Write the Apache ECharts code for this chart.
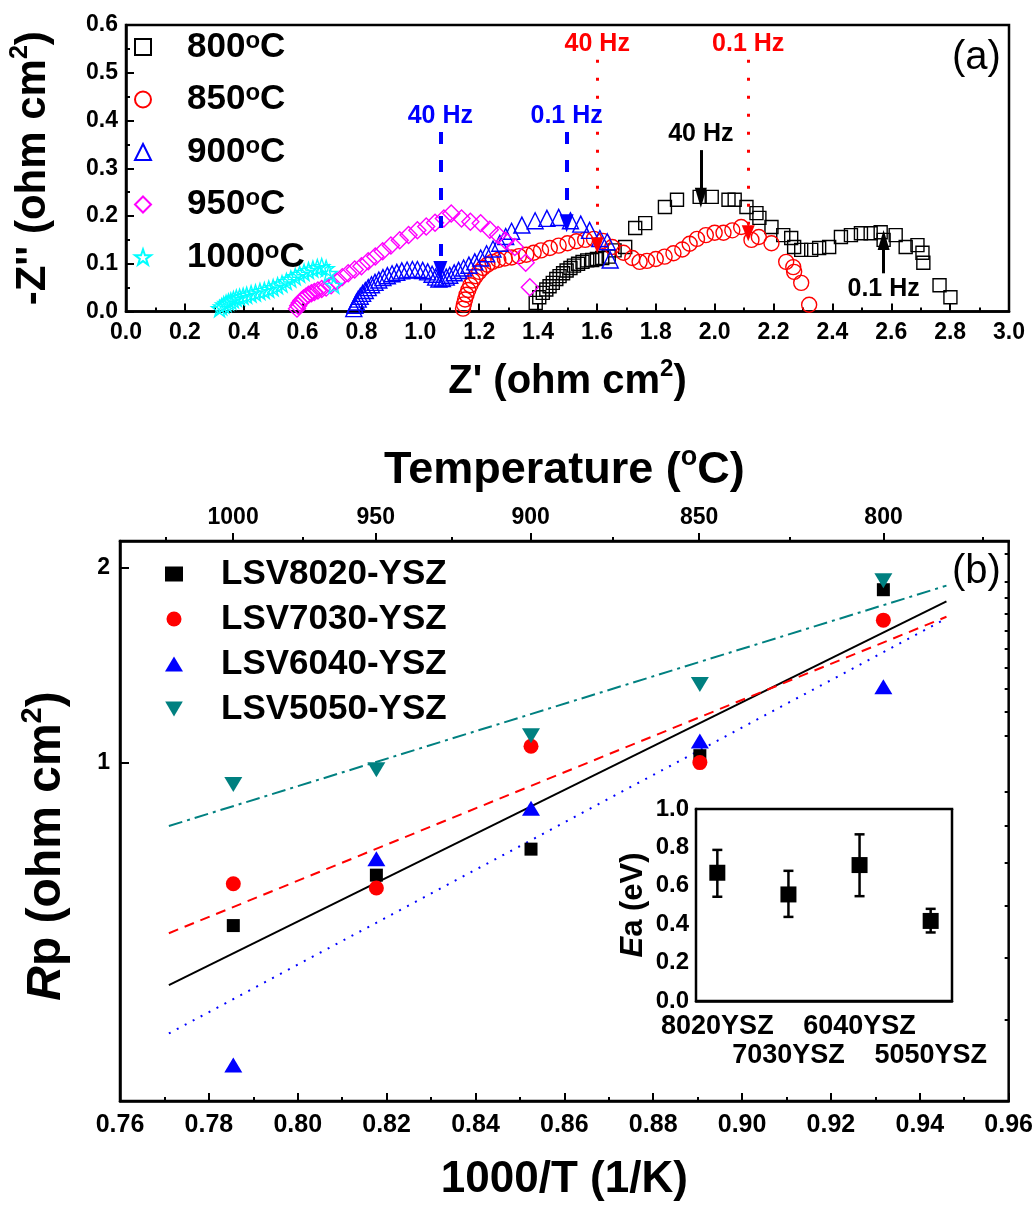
<!DOCTYPE html>
<html lang="en">
<head>
<meta charset="UTF-8">
<title>Impedance spectra and Arrhenius plot</title>
<script src="https://cdn.jsdelivr.net/npm/echarts@6/dist/echarts.min.js"></script>
<style>html,body{margin:0;padding:0;background:#fff;}</style>
</head>
<body>
<div id="main" style="width:1036px;height:1207px;"></div>
<script type="text/javascript">
// ---- (a) Nyquist data: [Z', -Z''] in ohm cm2 ----
const nyq800 = [[1.392,0.018],[1.404,0.030],[1.416,0.039],[1.428,0.046],[1.439,0.053],[1.45,0.06],[1.462,0.068],[1.473,0.074],[1.485,0.080],[1.497,0.086],[1.51,0.091],[1.522,0.096],[1.536,0.100],[1.551,0.104],[1.567,0.107],[1.584,0.108],[1.60,0.110],[1.618,0.112],[1.64,0.115],[1.66,0.128],[1.696,0.135],[1.73,0.175],[1.764,0.185],[1.831,0.219],[1.872,0.234],[1.949,0.240],[1.99,0.240],[2.047,0.234],[2.068,0.234],[2.108,0.219],[2.142,0.206],[2.152,0.196],[2.193,0.177],[2.233,0.160],[2.26,0.154],[2.27,0.135],[2.294,0.129],[2.328,0.129],[2.355,0.133],[2.389,0.135],[2.429,0.156],[2.463,0.160],[2.497,0.164],[2.53,0.164],[2.564,0.166],[2.574,0.150],[2.615,0.160],[2.649,0.135],[2.689,0.139],[2.706,0.123],[2.709,0.102],[2.764,0.055],[2.801,0.030]];
const nyq850 = [[1.145,0.006],[1.148,0.015],[1.152,0.025],[1.157,0.035],[1.163,0.045],[1.17,0.055],[1.178,0.065],[1.188,0.074],[1.2,0.083],[1.213,0.091],[1.228,0.098],[1.245,0.104],[1.265,0.108],[1.287,0.111],[1.31,0.113],[1.335,0.116],[1.36,0.119],[1.385,0.123],[1.41,0.128],[1.44,0.133],[1.47,0.138],[1.50,0.143],[1.53,0.147],[1.56,0.150],[1.59,0.152],[1.62,0.148],[1.652,0.135],[1.69,0.123],[1.72,0.112],[1.745,0.104],[1.77,0.106],[1.80,0.110],[1.83,0.115],[1.86,0.122],[1.89,0.130],[1.915,0.142],[1.94,0.152],[1.97,0.160],[2.0,0.165],[2.03,0.165],[2.06,0.170],[2.09,0.177],[2.125,0.150],[2.15,0.156],[2.193,0.143],[2.243,0.104],[2.267,0.093],[2.27,0.083],[2.294,0.060],[2.321,0.014]];
const nyq900 = [[0.774,0.006],[0.778,0.013],[0.783,0.020],[0.789,0.026],[0.796,0.032],[0.804,0.038],[0.813,0.044],[0.823,0.050],[0.834,0.056],[0.846,0.061],[0.859,0.066],[0.873,0.071],[0.888,0.075],[0.904,0.079],[0.92,0.082],[0.937,0.085],[0.955,0.087],[0.973,0.088],[0.99,0.088],[1.008,0.086],[1.025,0.083],[1.04,0.078],[1.052,0.072],[1.063,0.068],[1.075,0.069],[1.088,0.072],[1.10,0.076],[1.115,0.081],[1.13,0.086],[1.147,0.091],[1.165,0.097],[1.185,0.104],[1.205,0.112],[1.225,0.121],[1.247,0.131],[1.27,0.143],[1.29,0.157],[1.31,0.168],[1.345,0.181],[1.39,0.190],[1.43,0.195],[1.47,0.197],[1.51,0.190],[1.545,0.183],[1.575,0.170],[1.61,0.153],[1.635,0.146],[1.645,0.108]];
const nyq950 = [[0.581,0.006],[0.585,0.012],[0.59,0.018],[0.596,0.023],[0.603,0.027],[0.611,0.031],[0.62,0.035],[0.63,0.038],[0.64,0.041],[0.652,0.044],[0.665,0.047],[0.68,0.050],[0.697,0.055],[0.716,0.063],[0.735,0.072],[0.755,0.080],[0.777,0.088],[0.80,0.095],[0.823,0.105],[0.847,0.115],[0.872,0.126],[0.90,0.138],[0.93,0.149],[0.96,0.160],[0.99,0.170],[1.02,0.178],[1.05,0.186],[1.08,0.195],[1.105,0.205],[1.14,0.195],[1.17,0.188],[1.205,0.185],[1.236,0.171],[1.264,0.160],[1.29,0.148],[1.321,0.135],[1.358,0.102],[1.372,0.051]];
const nyq1000 = [[0.318,0.006],[0.325,0.010],[0.332,0.014],[0.340,0.017],[0.348,0.020],[0.356,0.022],[0.365,0.025],[0.375,0.028],[0.386,0.030],[0.398,0.032],[0.41,0.034],[0.425,0.037],[0.44,0.039],[0.455,0.042],[0.47,0.044],[0.485,0.047],[0.50,0.050],[0.515,0.054],[0.53,0.058],[0.545,0.063],[0.56,0.068],[0.575,0.073],[0.59,0.078],[0.605,0.082],[0.62,0.086],[0.635,0.089],[0.65,0.092],[0.665,0.094],[0.68,0.090],[0.69,0.080],[0.706,0.055]];
const nyqNames = ['800°C', '850°C', '900°C', '950°C', '1000°C'];

// frequency markers: x, start, arrow tip
const hzText = ['40 Hz', '0.1 Hz', '40 Hz', '0.1 Hz', '40 Hz', '0.1 Hz'];
const hzX = [1.068, 1.497, 1.601, 2.114, 1.953, 2.574];
const hzFrom = [0.376, 0.376, 0.527, 0.527, 0.338, 0.080];
const hzTo = [0.087, 0.185, 0.139, 0.164, 0.238, 0.150];

// ---- (b) Arrhenius data ----
const tempTicks = [1000, 950, 900, 850, 800];
const tempMinor = [1025, 975, 925, 875, 825, 775];
const invT = [0.7855, 0.8177, 0.8525, 0.8905, 0.9318];
const rp8020 = [0.56, 0.67, 0.735, 1.025, 1.85];
const rp7030 = [0.65, 0.64, 1.06, 1.0, 1.66];
const rp6040 = [0.341, 0.71, 0.85, 1.08, 1.31];
const rp5050 = [0.925, 0.975, 1.10, 1.32, 1.91];
const rpNames = ['LSV8020-YSZ', 'LSV7030-YSZ', 'LSV6040-YSZ', 'LSV5050-YSZ'];
// linear fits (end points)
const fitX = [0.771, 0.946];
const fit8020 = [0.453, 1.775];
const fit7030 = [0.545, 1.68];
const fit6040 = [0.3815, 1.67];
const fit5050 = [0.798, 1.877];
const rpMajor = [1, 2];
const rpMinor = [0.3, 0.4, 0.5, 0.6, 0.7, 0.8, 0.9, 1.1, 1.2, 1.3, 1.4, 1.5, 1.6, 1.7, 1.8, 1.9, 2.1, 2.2];

// ---- inset: activation energy ----
const insetCats = ['8020YSZ', '7030YSZ', '6040YSZ', '5050YSZ'];
const insetPos = [1, 2, 3, 4];
const eaVal = [0.668, 0.555, 0.708, 0.417];
const eaLow = [0.543, 0.438, 0.546, 0.357];
const eaHigh = [0.787, 0.678, 0.868, 0.48];

const FONT = "'Liberation Sans', Arial, sans-serif";
const STAR = 'path://M50,0L61.8,35.1L97.6,35.1L68.7,56.8L79.4,91.2L50,70L20.6,91.2L31.3,56.8L2.4,35.1L38.2,35.1Z';
const DOWN_TRI = 'path://M0,0L20,0L10,17Z';
const toInvT = t => 1000 / (t + 273.15);

function bold(size) {
    return {fontFamily: FONT, fontSize: size, fontWeight: 'bold', color: '#000'};
}
function richFor(size) {
    return {
        sup: {fontFamily: FONT, fontWeight: 'bold', color: '#000', fontSize: Math.round(size * 0.6), lineHeight: Math.round(size * 0.62), verticalAlign: 'top'},
        i: {fontFamily: FONT, fontWeight: 'bold', fontStyle: 'italic', color: '#000', fontSize: size, lineHeight: Math.round(size * 1.2)},
        n: {fontFamily: FONT, fontWeight: 'bold', color: '#000', fontSize: size, lineHeight: Math.round(size * 1.2)}
    };
}
function nameStyle(size) {
    return Object.assign(bold(size), {lineHeight: Math.round(size * 1.2), rich: richFor(size)});
}

const blackLine = {lineStyle: {color: '#000', width: 2.5}};
function ticks(len, inside) {
    return {show: true, inside: inside, length: len, lineStyle: {color: '#000', width: 2}};
}
function minor(len) {
    return {show: true, splitNumber: 2, length: len, lineStyle: {color: '#000', width: 2}};
}

const nyqData = [nyq800, nyq850, nyq900, nyq950, nyq1000];
const nyqColors = ['#000000', '#ff0000', '#0000ff', '#ff00ff', '#00ffff'];
const nyqSymbols = ['rect', 'circle', 'triangle', 'diamond', STAR];
const nyqSizes = [13, 15, 16, 17, 16];

const hzColor = ['#0000ff', '#0000ff', '#ff0000', '#ff0000', '#000000', '#000000'];
const hzDash = [[12, 16], [12, 16], [3, 15], [3, 15], 'solid', 'solid'];
const hzWidth = [4, 4, 3, 3, 3, 3];
const hzHead = [[14, 18], [14, 18], [13, 16], [13, 16], [12, 20], [12, 20]];

const markData = hzX.map((x, i) => [
    {
        coord: [x, hzFrom[i]], symbol: 'none',
        lineStyle: {color: hzColor[i], width: hzWidth[i], type: hzDash[i]},
        label: {show: true, position: 'start', distance: 3, formatter: hzText[i],
            color: hzColor[i], fontFamily: FONT, fontSize: 25, fontWeight: 'bold'}
    },
    {coord: [x, hzTo[i]], symbol: 'triangle', symbolSize: hzHead[i]}
]);

const topSeries = nyqNames.map((name, i) => ({
    name: name, type: 'scatter', xAxisIndex: 0, yAxisIndex: 0,
    data: nyqData[i], symbol: nyqSymbols[i], symbolSize: nyqSizes[i],
    itemStyle: {color: 'rgba(255,255,255,0)', borderColor: nyqColors[i], borderWidth: 1.4, opacity: 1},
    emphasis: {disabled: true}, z: 3
}));
topSeries[0].markLine = {silent: true, animation: false, precision: 3, data: markData};

const rpVals = [rp8020, rp7030, rp6040, rp5050];
const rpFits = [fit8020, fit7030, fit6040, fit5050];
const rpColors = ['#000000', '#ff0000', '#0000ff', '#008080'];
const rpSymbols = ['rect', 'circle', 'triangle', 'triangle'];
const rpIcons = ['rect', 'circle', 'triangle', DOWN_TRI];
const rpSizes = [13, 15, [18, 15], [18, 15]];
const fitDash = ['solid', [10, 7], [2, 7], [14, 5, 3, 5]];

const fitSeries = rpFits.map((f, i) => ({
    name: 'fit ' + rpNames[i], type: 'line', xAxisIndex: 1, yAxisIndex: 1,
    data: fitX.map((x, j) => [x, f[j]]), symbol: 'none', silent: true,
    lineStyle: {color: rpColors[i], width: 2, type: fitDash[i]}, z: 2
}));
const rpSeries = rpNames.map((name, i) => ({
    name: name, type: 'scatter', xAxisIndex: 1, yAxisIndex: 1,
    data: invT.map((x, j) => [x, rpVals[i][j]]),
    symbol: rpSymbols[i], symbolSize: rpSizes[i], symbolRotate: i === 3 ? 180 : 0,
    itemStyle: {color: rpColors[i], opacity: 1}, emphasis: {disabled: true}, z: 3
}));

const insetSeries = [
    {
        type: 'custom', xAxisIndex: 4, yAxisIndex: 3, silent: true,
        data: insetPos.map((x, i) => [x, eaLow[i], eaHigh[i]]),
        encode: {x: 0, y: [1, 2]},
        renderItem: function (params, api) {
            const top = api.coord([api.value(0), api.value(2)]);
            const bot = api.coord([api.value(0), api.value(1)]);
            const st = {stroke: '#000', lineWidth: 2.5};
            const w = 5;
            return {type: 'group', children: [
                {type: 'line', shape: {x1: top[0], y1: top[1], x2: bot[0], y2: bot[1]}, style: st},
                {type: 'line', shape: {x1: top[0] - w, y1: top[1], x2: top[0] + w, y2: top[1]}, style: st},
                {type: 'line', shape: {x1: bot[0] - w, y1: bot[1], x2: bot[0] + w, y2: bot[1]}, style: st}
            ]};
        }
    },
    {
        type: 'scatter', xAxisIndex: 4, yAxisIndex: 3, symbol: 'rect', symbolSize: 16,
        data: insetPos.map((x, i) => [x, eaVal[i]]), itemStyle: {color: '#000', opacity: 1}, z: 4
    }
];

// inset category labels are staggered on two rows
const insetRow1 = [1, 3];
const insetRow2 = [2, 4];
function insetLabelAxis(pos, margin) {
    return {
        gridIndex: 2, type: 'value', min: 0.7, max: 4.3, position: 'bottom',
        axisLine: {show: false}, axisTick: {show: false}, splitLine: {show: false},
        axisLabel: Object.assign(bold(27), {margin: margin, customValues: pos, hideOverlap: false,
            showMinLabel: true, showMaxLabel: true,
            formatter: v => insetCats[Math.round(v) - 1]})
    };
}

const option = {
    animation: false,
    backgroundColor: '#fff',
    textStyle: {fontFamily: FONT},
    grid: [
        {left: 121, top: 25, width: 888, height: 286.5, show: true, borderColor: '#000', borderWidth: 2.5},
        {left: 120, top: 541, width: 890, height: 565, show: true, borderColor: '#000', borderWidth: 2.5},
        {left: 696, top: 809, width: 256, height: 192, show: true, borderColor: '#000', borderWidth: 2.5, backgroundColor: '#fff', z: 1}
    ],
    xAxis: [
        {
            gridIndex: 0, type: 'value', min: 0, max: 3, interval: 0.2, position: 'bottom',
            axisLine: blackLine, axisTick: ticks(8, true), minorTick: minor(4), splitLine: {show: false},
            axisLabel: Object.assign(bold(23), {margin: 10, formatter: v => v.toFixed(1)}),
            name: "Z' (ohm cm{sup|2})", nameLocation: 'middle', nameGap: 46, nameTextStyle: nameStyle(40)
        },
        {
            gridIndex: 1, type: 'value', min: 0.76, max: 0.96, interval: 0.02, position: 'bottom',
            axisLine: blackLine, axisTick: ticks(8, true), minorTick: minor(4), splitLine: {show: false},
            axisLabel: Object.assign(bold(25), {margin: 12, formatter: v => v.toFixed(2)}),
            name: '1000/T (1/K)', nameLocation: 'middle', nameGap: 52, nameTextStyle: nameStyle(44)
        },
        {
            gridIndex: 1, type: 'value', min: 0.76, max: 0.96, position: 'top',
            axisLine: blackLine, splitLine: {show: false},
            axisTick: Object.assign(ticks(8, false), {customValues: tempTicks.map(toInvT)}),
            axisLabel: Object.assign(bold(23), {margin: 12, customValues: tempTicks.map(toInvT),
                formatter: v => String(Math.round(1000 / v - 273.15))}),
            name: 'Temperature ({sup|o}C)', nameLocation: 'middle', nameGap: 43, nameTextStyle: nameStyle(45)
        },
        {
            gridIndex: 1, type: 'value', min: 0.76, max: 0.96, position: 'top',
            axisLine: {show: false}, splitLine: {show: false}, axisLabel: {show: false},
            axisTick: Object.assign(ticks(4, false), {customValues: tempMinor.map(toInvT)})
        },
        {
            gridIndex: 2, type: 'value', min: 0.7, max: 4.3, position: 'bottom',
            axisLine: blackLine, splitLine: {show: false}, axisLabel: {show: false},
            axisTick: Object.assign(ticks(7, true), {customValues: insetPos})
        },
        {
            gridIndex: 2, type: 'value', min: 0.7, max: 4.3, position: 'top',
            axisLine: blackLine, splitLine: {show: false}, axisLabel: {show: false},
            axisTick: Object.assign(ticks(6, true), {customValues: insetPos})
        },
        insetLabelAxis(insetRow1, 12),
        insetLabelAxis(insetRow2, 41)
    ],
    yAxis: [
        {
            gridIndex: 0, type: 'value', min: 0, max: 0.6, interval: 0.1,
            axisLine: blackLine, axisTick: ticks(8, true), minorTick: minor(4), splitLine: {show: false},
            axisLabel: Object.assign(bold(23), {margin: 8, formatter: v => v.toFixed(1)}),
            name: "-Z'' (ohm cm{sup|2})", nameLocation: 'middle', nameGap: 68, nameTextStyle: nameStyle(42)
        },
        {
            gridIndex: 1, type: 'log', logBase: 10, min: 0.3, max: 2.2,
            axisLine: blackLine, splitLine: {show: false},
            axisTick: Object.assign(ticks(9, true), {customValues: rpMajor}),
            axisLabel: Object.assign(bold(23), {margin: 10, customValues: rpMajor,
                formatter: v => String(Math.round(v * 10) / 10)}),
            name: '{i|R}{n|p} (ohm cm{sup|2})', nameLocation: 'middle', nameGap: 44,
            nameTextStyle: Object.assign(nameStyle(48), {padding: [0, 50, 0, 0]})
        },
        {
            gridIndex: 1, type: 'log', logBase: 10, min: 0.3, max: 2.2,
            axisLine: {show: false}, splitLine: {show: false}, axisLabel: {show: false},
            axisTick: Object.assign(ticks(4, true), {customValues: rpMinor})
        },
        {
            gridIndex: 2, type: 'value', min: 0, max: 1, interval: 0.2,
            axisLine: blackLine, axisTick: ticks(7, true), minorTick: minor(4), splitLine: {show: false},
            axisLabel: Object.assign(bold(24), {margin: 7, formatter: v => v.toFixed(1)}),
            name: '{i|E}{n|a} (eV)', nameLocation: 'middle', nameGap: 44, nameTextStyle: nameStyle(31)
        }
    ],
    legend: [
        {
            data: nyqNames, orient: 'vertical', left: 129, top: 24,
            itemWidth: 16, itemHeight: 16, itemGap: 16.5, selectedMode: false,
            formatter: n => n.replace('°', '{sup|o}'),
            textStyle: Object.assign(bold(35), {lineHeight: 36, padding: [0, 0, 0, 31],
                rich: {sup: {fontFamily: FONT, fontWeight: 'bold', color: '#000', fontSize: 24, lineHeight: 20, verticalAlign: 'top'}}})
        },
        {
            data: rpNames.map((n, i) => ({name: n, icon: rpIcons[i]})),
            orient: 'vertical', left: 160, top: 551,
            itemWidth: 18, itemHeight: 15, itemGap: 9, selectedMode: false,
            textStyle: Object.assign(bold(35), {lineHeight: 36, padding: [0, 0, 0, 33]})
        }
    ],
    graphic: [
        {type: 'text', left: 952, top: 38, style: {text: '(a)', fontFamily: FONT, fontSize: 40, fill: '#000'}},
        {type: 'text', left: 952, top: 552, style: {text: '(b)', fontFamily: FONT, fontSize: 40, fill: '#000'}}
    ],
    series: topSeries.concat(fitSeries, rpSeries, insetSeries)
};

const myChart = echarts.init(document.getElementById('main'));
myChart.setOption(option);
</script>
</body>
</html>
